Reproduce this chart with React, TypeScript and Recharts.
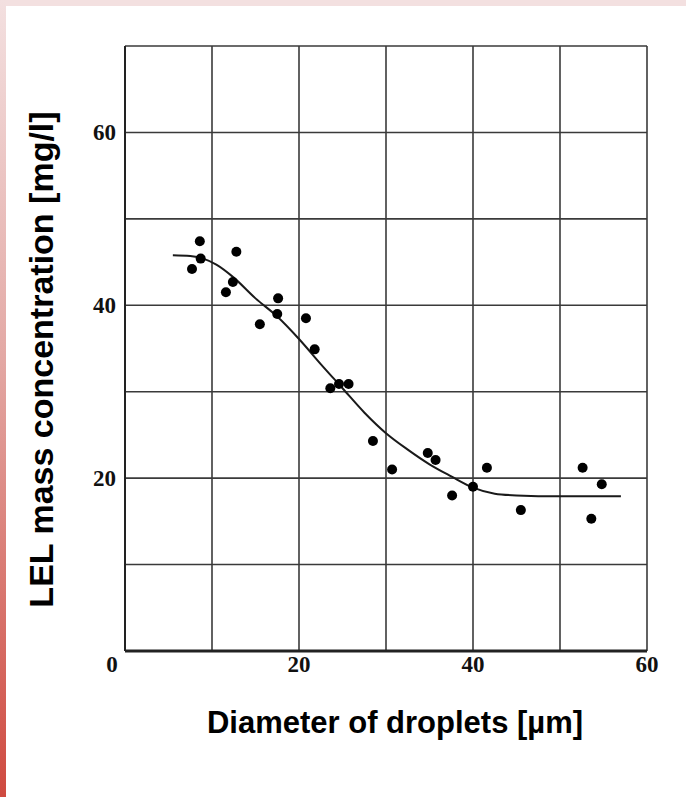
import React from "react";
import {
  ComposedChart,
  Line,
  Scatter,
  XAxis,
  YAxis,
  CartesianGrid,
  Label,
} from "recharts";

// Measured droplet data (diameter µm, LEL mass concentration mg/l)
const pointDiameters = [
  7.7, 8.6, 8.7, 11.6, 12.4, 12.8, 15.5, 17.6, 17.5, 20.8, 21.8, 23.6, 24.6,
  25.7, 28.5, 30.7, 34.8, 35.7, 37.6, 40.0, 41.6, 45.5, 52.6, 53.6, 54.8,
];
const pointConcentrations = [
  44.2, 47.4, 45.4, 41.5, 42.7, 46.2, 37.8, 40.8, 39.0, 38.5, 34.9, 30.4, 30.9,
  30.9, 24.3, 21.0, 22.9, 22.1, 18.0, 19.0, 21.2, 16.3, 21.2, 15.3, 19.3,
];

// Fitted curve
const curveDiameters = [
  5.5, 7.5, 9, 10.5, 12.5, 15, 17.5, 20, 22.5, 25, 27.5, 30, 32.5, 35, 37.5, 40,
  42.5, 45, 50, 57,
];
const curveConcentrations = [
  45.8, 45.7, 45.4, 44.7, 43.2, 40.8, 38.7, 36.1, 33.2, 30.4, 27.6, 25.2, 23.3,
  21.6, 20.2, 18.9, 18.2, 18.0, 17.9, 17.9,
];

const xTicks = [0, 10, 20, 30, 40, 50, 60];
const yTicks = [0, 10, 20, 30, 40, 50, 60, 70];
const xLabeled = [0, 20, 40, 60];
const yLabeled = [20, 40, 60];

const points = pointDiameters.map((x, i) => ({ x, y: pointConcentrations[i] }));
const curve = curveDiameters.map((x, i) => ({ x, y: curveConcentrations[i] }));

const tickFont = {
  fontFamily: "'Liberation Serif', 'DejaVu Serif', serif",
  fontWeight: 700,
  fontSize: 23,
  fill: "#111",
};

const XTick = (props: any) => {
  const { x, y, payload } = props;
  const v = payload.value;
  if (!xLabeled.includes(v)) return null;
  const dx = v === 0 ? -13 : 0;
  return (
    <text x={x + dx} y={y + 21} textAnchor="middle" {...tickFont}>
      {v}
    </text>
  );
};

const YTick = (props: any) => {
  const { x, y, payload } = props;
  const v = payload.value;
  if (!yLabeled.includes(v)) return null;
  return (
    <text x={x - 9} y={y + 8} textAnchor="end" {...tickFont}>
      {v}
    </text>
  );
};

const titleFont = {
  fontFamily: "'Liberation Sans', Arial, sans-serif",
  fontWeight: 700,
  fill: "#000",
};

const XTitle = (props: any) => {
  const vb = props.viewBox || {};
  const cx = vb.x + vb.width / 2 + 9;
  const y = vb.y + 82;
  return (
    <text x={cx} y={y} textAnchor="middle" fontSize={31} {...titleFont}>
      Diameter of droplets [µm]
    </text>
  );
};

const YTitle = (props: any) => {
  const vb = props.viewBox || {};
  const cx = vb.x - 24;
  const cy = vb.y + vb.height / 2 + 11;
  return (
    <text
      x={cx}
      y={cy}
      textAnchor="middle"
      dominantBaseline="central"
      transform={`rotate(-90, ${cx}, ${cy})`}
      fontSize={34}
      {...titleFont}
    >
      LEL mass concentration [mg/l]
    </text>
  );
};

const Dot = (props: any) => {
  const { cx, cy } = props;
  return <circle cx={cx} cy={cy} r={5} fill="#000" />;
};

export default function App() {
  return (
    <div
      style={{
        position: "absolute",
        left: 0,
        top: 0,
        width: 686,
        height: 797,
        background: "#ffffff",
        overflow: "hidden",
      }}
    >
      <div
        style={{
          position: "absolute",
          left: 0,
          top: 0,
          width: 686,
          height: 6,
          background: "#f3e0e0",
        }}
      />
      <div
        style={{
          position: "absolute",
          left: 0,
          top: 0,
          width: 6,
          height: 797,
          background: "linear-gradient(to bottom, #f3e0e0 0%, #e3a8a4 45%, #cf4a40 100%)",
        }}
      />
      <div style={{ position: "absolute", left: 0, top: 0 }}>
        <ComposedChart
          width={686}
          height={797}
          margin={{ top: 46, right: 39, bottom: 116, left: 65 }}
        >
          <CartesianGrid
            stroke="#3a3a3a"
            strokeWidth={1.6}
            horizontal={true}
            vertical={true}
          />
          <XAxis
            type="number"
            dataKey="x"
            domain={[0, 60]}
            ticks={xTicks}
            interval={0}
            height={30}
            tickSize={0}
            tickMargin={0}
            tickLine={false}
            axisLine={{ stroke: "#222", strokeWidth: 3 }}
            tick={<XTick />}
            allowDataOverflow
          >
            <Label content={<XTitle />} />
          </XAxis>
          <YAxis
            type="number"
            dataKey="y"
            domain={[0, 70]}
            ticks={yTicks}
            interval={0}
            width={60}
            tickSize={0}
            tickMargin={0}
            tickLine={false}
            axisLine={{ stroke: "#222", strokeWidth: 2 }}
            tick={<YTick />}
            allowDataOverflow
          >
            <Label content={<YTitle />} />
          </YAxis>
          <Line
            data={curve}
            dataKey="y"
            type="monotone"
            stroke="#1a1a1a"
            strokeWidth={2}
            dot={false}
            activeDot={false}
            isAnimationActive={false}
          />
          <Scatter
            data={points}
            dataKey="y"
            fill="#000"
            shape={<Dot />}
            isAnimationActive={false}
          />
        </ComposedChart>
      </div>
    </div>
  );
}
